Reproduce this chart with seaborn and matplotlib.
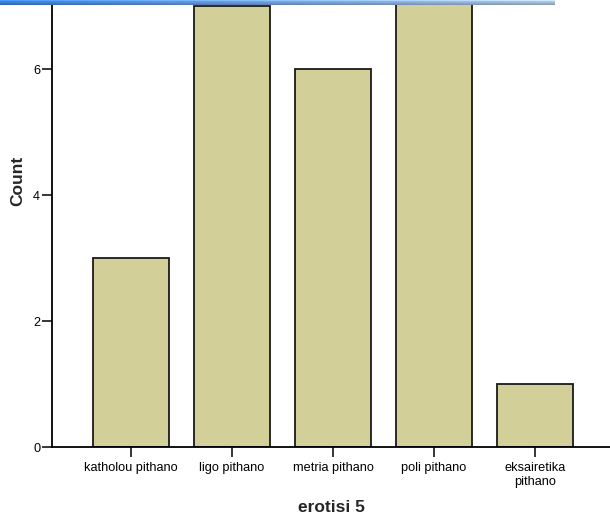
import numpy as np
import pandas as pd
import seaborn as sns
import matplotlib
matplotlib.use("Agg")
import matplotlib.pyplot as plt

# ---- data ----
categories = ["katholou pithano", "ligo pithano", "metria pithano", "poli pithano", "eksairetika\npithano"]
counts = [3, 7, 6, 8, 1]
y_ticks = [0, 2, 4, 6]
x_label = "erotisi 5"
y_label = "Count"

sns.set_style("white")
plt.rcParams["font.family"] = ["Liberation Sans", "DejaVu Sans"]

df = pd.DataFrame({"category": categories, "count": counts})

W, H = 610, 520
fig = plt.figure(figsize=(W / 100, H / 100), dpi=100)
ax = fig.add_axes([52 / W, 73 / H, (W - 52) / W, 442 / H])

sns.barplot(data=df, x="category", y="count", order=categories,
            color="#D3CF98", saturation=1, edgecolor="#1a1a1a",
            linewidth=1.3, width=0.75, ax=ax)

ax.set_xlim(-0.78, 4.74)
ax.set_ylim(0, 7.02)
ax.set_yticks(y_ticks)
ax.set_yticklabels([str(v) for v in y_ticks])

for s in ["top", "right"]:
    ax.spines[s].set_visible(False)
for s in ["left", "bottom"]:
    ax.spines[s].set_color("black")
    ax.spines[s].set_linewidth(1.3)

ax.tick_params(axis="y", direction="out", length=7, width=1.1, pad=1.5,
               labelsize=9.2, colors="black", left=True)
ax.tick_params(axis="x", direction="out", length=7, width=1.1, pad=4,
               labelsize=9.2, colors="black", bottom=True)
for t in ax.get_xticklabels():
    t.set_multialignment("center")

ax.set_xlabel(x_label, fontsize=12.5, fontweight="bold")
ax.set_ylabel(y_label, fontsize=12.5, fontweight="bold")
ax.xaxis.set_label_coords(0.5, (447 - 507) / 442)
ax.xaxis.label.set_va("center")
ax.yaxis.set_label_coords((18 - 52) / (W - 52), (447 - 181) / 442)
ax.yaxis.label.set_va("center")

# decorative blue title strip at the top
bax = fig.add_axes([0, 1 - 5 / H, 555 / W, 5 / H])
n = 200
t = np.linspace(0, 1, n)
left = np.array([0.23, 0.49, 0.82])
right = np.array([0.66, 0.74, 0.85])
row = left[None, :] * (1 - t[:, None]) + right[None, :] * t[:, None]
shade = np.array([1.25, 1.05, 1.0, 0.92, 0.85])
img = np.clip(row[None, :, :] * shade[:, None, None], 0, 1)
bax.imshow(img, aspect="auto", interpolation="bilinear")
bax.axis("off")

fig.savefig("out.png", dpi=100)
